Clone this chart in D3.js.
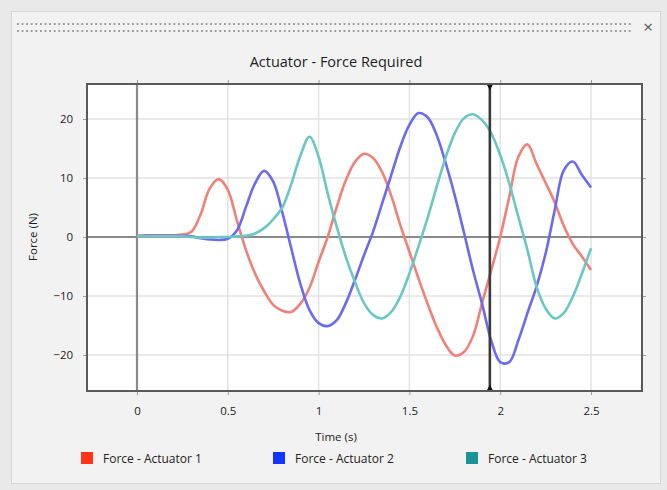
<!DOCTYPE html>
<html>
<head>
<meta charset="utf-8">
<script src="https://cdn.jsdelivr.net/npm/d3@7"></script>
<style>
  body { margin: 0; background: #e9e9e9; }
  svg { display: block; font-family: "Open Sans", "Noto Sans", sans-serif; }
</style>
</head>
<body>
<svg id="chart" width="667" height="490"></svg>
<script>
// sample times (s)
const times = [0,0.05,0.1,0.15,0.2,0.25,0.3,0.35,0.4,0.45,0.5,0.55,0.6,0.65,0.7,0.75,0.8,0.85,0.9,0.95,
  1,1.05,1.1,1.15,1.2,1.25,1.3,1.35,1.4,1.45,1.5,1.55,1.6,1.65,1.7,1.75,1.8,1.85,1.9,1.95,
  2,2.05,2.1,2.15,2.2,2.25,2.3,2.35,2.4,2.45,2.5];
// force values (N)
const force1 = [0.2,0.3,0.3,0.3,0.3,0.4,0.9,3.8,8.2,9.8,8.0,2.8,-2.2,-6.2,-9.2,-11.5,-12.5,-12.7,-11.3,-8.6,
  -4.2,0.0,5.1,9.6,12.7,14.1,13.4,11.0,7.0,2.0,-2.5,-7.0,-11.3,-15.2,-18.3,-20.1,-19.5,-16.8,-11.2,-5.7,
  0.0,6.8,13.6,15.7,12.4,9.2,5.9,1.9,-1.2,-3.3,-5.6];
const force2 = [0.1,0.2,0.2,0.2,0.2,0.2,0.1,-0.2,-0.4,-0.5,-0.3,1.1,5.1,9.1,11.2,9.4,4.2,-2.0,-8.0,-12.4,
  -14.6,-15.1,-14.1,-11.2,-7.3,-3.1,0.9,5.7,10.5,15.3,19.0,21.0,20.3,17.3,12.5,7.0,0.8,-5.6,-11.3,-17.5,
  -21.2,-21.2,-17.5,-12.9,-8.4,-2.8,4.5,11.3,12.8,10.5,8.4];
const force3 = [0.1,0.1,0.1,0.1,0.1,0.1,0.0,-0.1,-0.1,0.0,0.0,0.1,0.2,0.6,1.5,3.0,5.0,9.0,13.8,17.0,
  13.6,7.4,1.7,-3.4,-7.6,-11.2,-13.2,-13.8,-12.7,-10.1,-6.2,-1.6,3.2,8.5,13.5,17.6,20.1,20.8,19.8,17.6,
  13.9,9.1,3.4,-2.2,-8.4,-12.1,-13.8,-12.9,-10.1,-6.2,-1.9];
const seriesNames = ['Force - Actuator 1', 'Force - Actuator 2', 'Force - Actuator 3'];
const lineColors = ['#f08078', '#6a6af2', '#6cc6c4'];
const legendColors = ['#ff3318', '#1234ff', '#1a9494'];
const xTicks = [0, 0.5, 1, 1.5, 2, 2.5];
const yTicks = [-20, -10, 0, 10, 20];
const cursorTime = 1.943;

const svg = d3.select('#chart');

// window frame
svg.append('rect').attr('x', 11.5).attr('y', 11.5).attr('width', 649).attr('height', 472)
  .attr('fill', '#f2f2f2').attr('stroke', '#d6d6d6');
// grip dots
[24, 31].forEach(y => {
  svg.append('line').attr('x1', 17).attr('x2', 632).attr('y1', y).attr('y2', y)
    .attr('stroke', '#999').attr('stroke-width', 1.8).attr('stroke-dasharray', '1.8,2.8');
});
svg.append('text').attr('x', 648).attr('y', 33).attr('text-anchor', 'middle')
  .style('font-size', '17px').style('fill', '#555').text('×');

const plot = { left: 87, right: 642, top: 84, bottom: 391 };
const xScale = d3.scaleLinear().domain([-0.2753, 2.7808]).range([plot.left, plot.right]);
const yScale = d3.scaleLinear().domain([-26.1, 25.93]).range([plot.bottom, plot.top]);

// title
svg.append('text').attr('x', 336).attr('y', 67).attr('text-anchor', 'middle')
  .style('font-size', '14.5px').style('fill', '#1e1e1e').text('Actuator - Force Required');

// plot background
svg.append('rect').attr('x', plot.left).attr('y', plot.top)
  .attr('width', plot.right - plot.left).attr('height', plot.bottom - plot.top).attr('fill', '#fff');

// grid
const grid = svg.append('g');
grid.selectAll('.vg').data(xTicks.filter(d => d !== 0)).enter().append('line')
  .attr('x1', d => xScale(d)).attr('x2', d => xScale(d))
  .attr('y1', plot.top).attr('y2', plot.bottom)
  .attr('stroke', '#e2e2e2').attr('stroke-width', 1.5);
grid.selectAll('.hg').data(yTicks.filter(d => d !== 0)).enter().append('line')
  .attr('y1', d => yScale(d)).attr('y2', d => yScale(d))
  .attr('x1', plot.left).attr('x2', plot.right)
  .attr('stroke', '#e2e2e2').attr('stroke-width', 1.5);
// zero lines
svg.append('line').attr('x1', xScale(0)).attr('x2', xScale(0)).attr('y1', plot.top).attr('y2', plot.bottom)
  .attr('stroke', '#8a8a8a').attr('stroke-width', 2.2);
svg.append('line').attr('y1', yScale(0)).attr('y2', yScale(0)).attr('x1', plot.left).attr('x2', plot.right)
  .attr('stroke', '#8a8a8a').attr('stroke-width', 2.2);

// curves
const seriesValues = [force1, force2, force3];
const line = d3.line().x((d, i) => xScale(times[i])).y(d => yScale(d)).curve(d3.curveCatmullRom.alpha(0.5));
svg.append('g').selectAll('path').data(seriesValues).enter().append('path')
  .attr('d', d => line(d))
  .attr('fill', 'none')
  .attr('stroke', (d, i) => lineColors[i])
  .attr('stroke-width', 2.6)
  .attr('stroke-linejoin', 'round');

// cursor
const cx = xScale(cursorTime);
svg.append('line').attr('x1', cx).attr('x2', cx).attr('y1', plot.top).attr('y2', plot.bottom)
  .attr('stroke', '#3a3a3a').attr('stroke-width', 2.6);
svg.append('path').attr('d', `M${cx - 4},${plot.top - 1}L${cx + 4},${plot.top - 1}L${cx},${plot.top + 6}Z`).attr('fill', '#111');
svg.append('path').attr('d', `M${cx - 4},${plot.bottom + 1}L${cx + 4},${plot.bottom + 1}L${cx},${plot.bottom - 6}Z`).attr('fill', '#111');

// axes
const xAxis = d3.axisBottom(xScale).tickValues(xTicks).tickFormat(d3.format('~g')).tickSize(4);
const xAxisDraw = svg.append('g').attr('transform', `translate(0,${plot.bottom})`).call(xAxis);
const yAxis = d3.axisLeft(yScale).tickValues(yTicks).tickFormat(d3.format('~g')).tickSize(4);
const yAxisDraw = svg.append('g').attr('transform', `translate(${plot.left},0)`).call(yAxis);
const topAxis = svg.append('g').attr('transform', `translate(0,${plot.top})`)
  .call(d3.axisTop(xScale).tickValues(xTicks).tickFormat('').tickSize(4));
const rightAxis = svg.append('g').attr('transform', `translate(${plot.right},0)`)
  .call(d3.axisRight(yScale).tickValues(yTicks).tickFormat('').tickSize(4));
[xAxisDraw, yAxisDraw, topAxis, rightAxis].forEach(a => {
  a.select('.domain').remove();
  a.selectAll('.tick line').attr('stroke', '#9a9a9a');
  a.selectAll('text').style('font-size', '11.5px').style('fill', '#222').style('font-family', '"Open Sans", sans-serif');
});
xAxisDraw.selectAll('text').attr('dy', '1.5em');
yAxisDraw.selectAll('text').attr('dx', '-0.6em');

// frame
svg.append('rect').attr('x', plot.left).attr('y', plot.top)
  .attr('width', plot.right - plot.left).attr('height', plot.bottom - plot.top)
  .attr('fill', 'none').attr('stroke', '#5a5a5a').attr('stroke-width', 2);

// axis labels
svg.append('text').attr('x', 336).attr('y', 441).attr('text-anchor', 'middle')
  .style('font-size', '11.5px').style('fill', '#222').text('Time (s)');
svg.append('text').attr('transform', `translate(37,${yScale(0)}) rotate(-90)`).attr('text-anchor', 'middle')
  .style('font-size', '11.5px').style('fill', '#222').text('Force (N)');

// legend
const legendX = [81, 273, 466];
const legend = svg.append('g').selectAll('g').data(seriesNames).enter().append('g')
  .attr('transform', (d, i) => `translate(${legendX[i]},452)`);
legend.append('rect').attr('width', 12).attr('height', 12)
  .attr('fill', (d, i) => legendColors[i]);
legend.append('text').attr('x', 22).attr('y', 10.5)
  .style('font-size', '12px').style('fill', '#222').text(d => d);
</script>
</body>
</html>
